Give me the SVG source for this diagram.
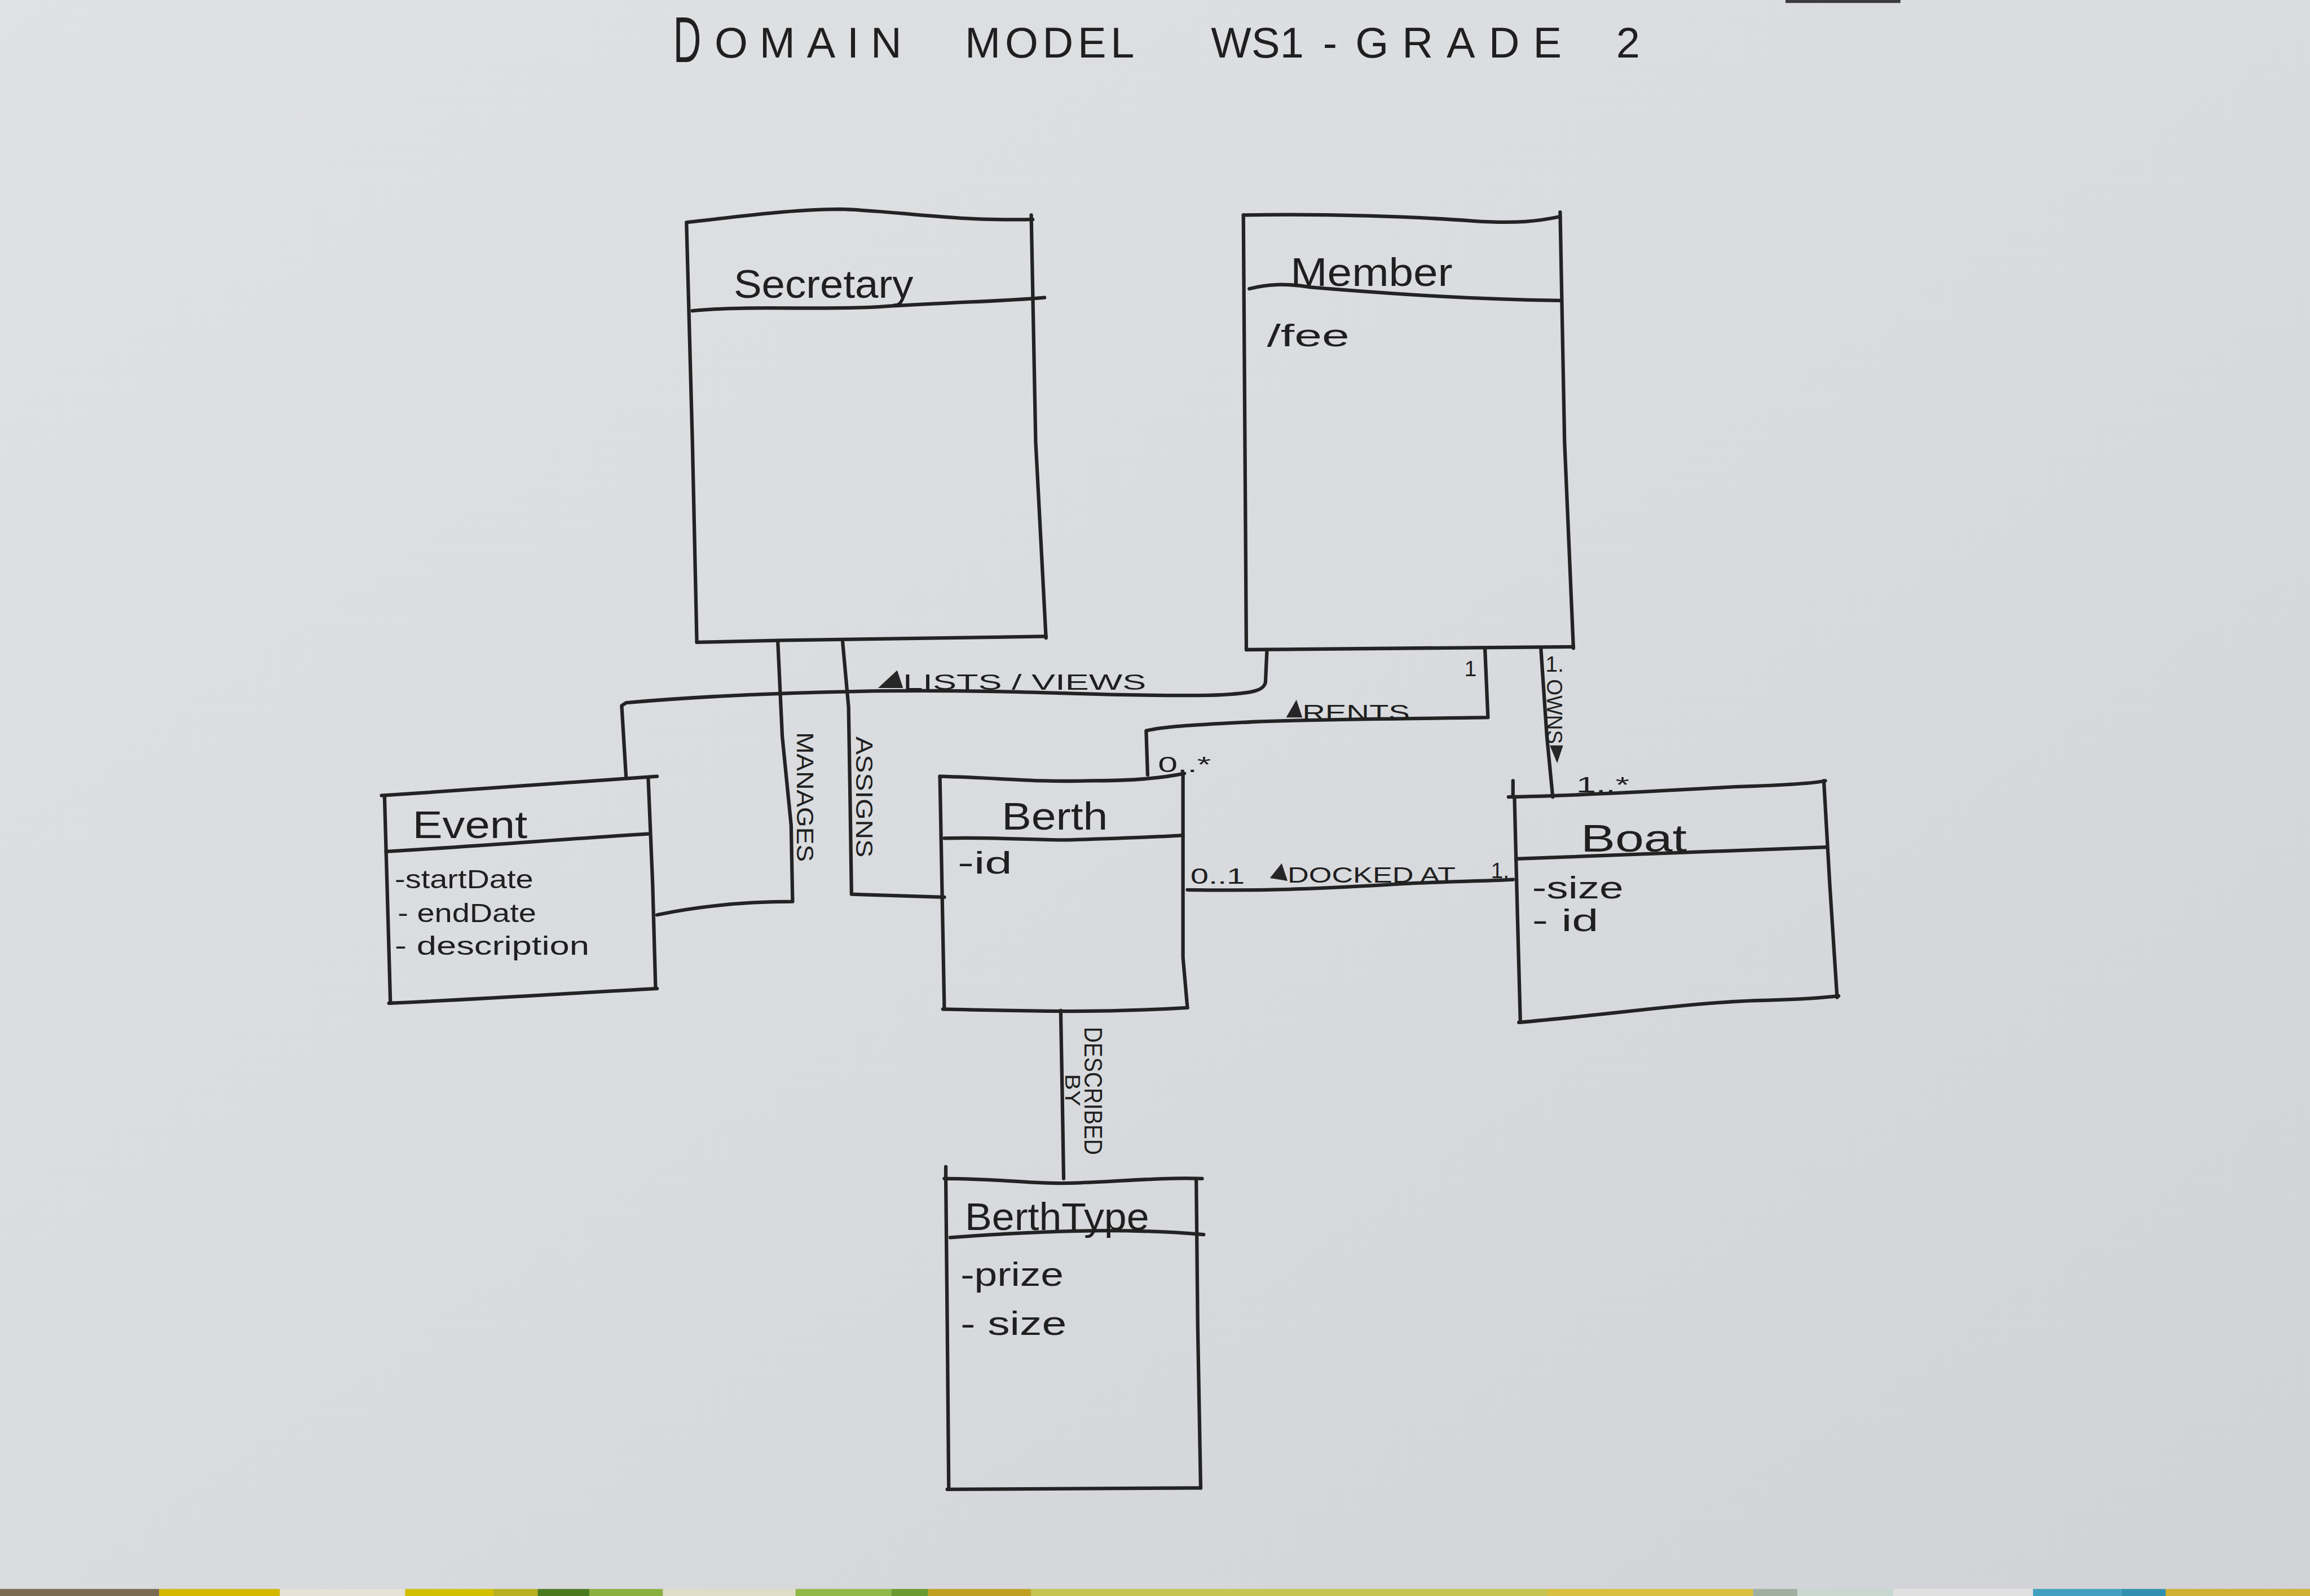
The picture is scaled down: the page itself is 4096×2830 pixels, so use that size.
<svg xmlns="http://www.w3.org/2000/svg" width="4096" height="2830" viewBox="0 0 4096 2830">
<defs>
<linearGradient id="paper" x1="0" y1="0" x2="1" y2="1">
<stop offset="0" stop-color="#e0e1e3"/>
<stop offset="0.5" stop-color="#d9dbde"/>
<stop offset="1" stop-color="#d0d2d6"/>
</linearGradient>
<style>
.ink{fill:none;stroke:#232323;stroke-width:2.4;stroke-linecap:round;stroke-linejoin:round}
.t{fill:#1f1f1f;font-family:"Liberation Sans","DejaVu Sans",sans-serif}
.ti{fill:#1f1f1f;font-family:"Liberation Sans","DejaVu Sans",sans-serif;font-size:29px}
.name{font-size:27px}
.attr{font-size:21px}
.lbl{font-size:15px}
.tri{fill:#262626}
</style>
</defs>
<rect x="0" y="0" width="4096" height="2830" fill="url(#paper)"/>
<g transform="scale(2.612245)">
<g id="strip">
<rect x="0" y="1078.6" width="108" height="5" fill="#7a6a50"/>
<rect x="108" y="1078.6" width="82" height="5" fill="#d4b800"/>
<rect x="190" y="1078.6" width="85" height="5" fill="#e6e2d6"/>
<rect x="275" y="1078.6" width="60" height="5" fill="#d2c000"/>
<rect x="335" y="1078.6" width="30" height="5" fill="#b8b020"/>
<rect x="365" y="1078.6" width="35" height="5" fill="#4a7a20"/>
<rect x="400" y="1078.6" width="50" height="5" fill="#8ab040"/>
<rect x="450" y="1078.6" width="90" height="5" fill="#e0dcc8"/>
<rect x="540" y="1078.6" width="65" height="5" fill="#90b848"/>
<rect x="605" y="1078.6" width="25" height="5" fill="#6a9a30"/>
<rect x="630" y="1078.6" width="70" height="5" fill="#c0a020"/>
<rect x="700" y="1078.6" width="350" height="5" fill="#c4c450"/>
<rect x="1050" y="1078.6" width="140" height="5" fill="#d8c040"/>
<rect x="1190" y="1078.6" width="30" height="5" fill="#a0b0a0"/>
<rect x="1220" y="1078.6" width="65" height="5" fill="#c8d8d0"/>
<rect x="1285" y="1078.6" width="95" height="5" fill="#e0e0e0"/>
<rect x="1380" y="1078.6" width="60" height="5" fill="#40a0c0"/>
<rect x="1440" y="1078.6" width="30" height="5" fill="#3090b0"/>
<rect x="1470" y="1078.6" width="98" height="5" fill="#d0b030"/>
</g>
<line x1="1212" y1="1" x2="1290" y2="1" stroke="#3a3a3a" stroke-width="2"/>

<g id="title">
<text class="ti" x="457" y="42" style="font-size:44px" textLength="19" lengthAdjust="spacingAndGlyphs">D</text>
<text class="ti" x="485" y="39" textLength="127" lengthAdjust="spacing">OMAIN</text>
<text class="ti" x="655" y="39" textLength="115" lengthAdjust="spacing">MODEL</text>
<text class="ti" x="822" y="39" textLength="63" lengthAdjust="spacing">WS1</text>
<text class="ti" x="898" y="39">-</text>
<text class="ti" x="920" y="39" textLength="140" lengthAdjust="spacing">GRADE</text>
<text class="ti" x="1097" y="39">2</text>
</g>

<g id="connectors">
<path class="ink" d="M860,441 L859,463 C858,469 850,471 820,472 C750,473 700,468 600,469 C520,470 460,474 425,477 L422,479 L425,528"/>
<polygon class="tri" points="596,467 609,455 613,467"/>
<text class="t lbl" x="613" y="468" font-size="16" textLength="165" lengthAdjust="spacingAndGlyphs">LISTS / VIEWS</text>
<path class="ink" d="M1008,441 L1010,487 C950,488 900,488 850,490 C812,492 790,493 778,496 L779,526"/>
<polygon class="tri" points="873,487 880,475 884,487"/>
<text class="t lbl" x="884" y="489" font-size="16" textLength="73" lengthAdjust="spacingAndGlyphs">RENTS</text>
<text class="t lbl" x="994" y="459">1</text>
<text class="t lbl" x="786" y="524" textLength="36" lengthAdjust="spacingAndGlyphs">0..*</text>
<path class="ink" d="M1046,441 L1050,500 L1054,541"/>
<text class="t lbl" x="1049" y="456" font-size="14">1.</text>
<text class="t" font-size="15" transform="translate(1050,461) rotate(90)" textLength="44" lengthAdjust="spacingAndGlyphs">OWNS</text>
<polygon class="tri" points="1052,506 1061,506 1057,518"/>
<text class="t lbl" x="1070" y="538" font-size="14" textLength="36" lengthAdjust="spacingAndGlyphs">1..*</text>
<path class="ink" d="M528,436 L531,500 L537,560 L538,612 C510,612 480,614 446,621"/>
<text class="t" font-size="16" transform="translate(541,497) rotate(90)" textLength="88" lengthAdjust="spacingAndGlyphs">MANAGES</text>
<path class="ink" d="M572,436 L576,480 L577,540 L578,607 L641,609"/>
<text class="t" font-size="16" transform="translate(581,500) rotate(90)" textLength="82" lengthAdjust="spacingAndGlyphs">ASSIGNS</text>
<path class="ink" d="M806,604 C860,605 900,603 950,600 C990,598 1010,598 1027,597"/>
<text class="t lbl" x="808" y="600" textLength="37" lengthAdjust="spacingAndGlyphs">0..1</text>
<polygon class="tri" points="862,596 870,586 874,598"/>
<text class="t lbl" x="874" y="599" font-size="16" textLength="114" lengthAdjust="spacingAndGlyphs">DOCKED AT</text>
<text class="t lbl" x="1012" y="596" font-size="14">1.</text>
<path class="ink" d="M720,686 L721,740 L722,800"/>
<text class="t" font-size="17" transform="translate(736,697) rotate(90)" textLength="87" lengthAdjust="spacingAndGlyphs">DESCRIBED</text>
<text class="t" font-size="14" transform="translate(723,729) rotate(90)" textLength="22" lengthAdjust="spacingAndGlyphs">BY</text>
</g>

<g id="secretary">
<path class="ink" d="M466,151 C500,147 540,142 570,142 C610,143 640,150 701,149"/>
<path class="ink" d="M700,146 L703,300 L710,433"/>
<path class="ink" d="M473,436 C550,434 620,433 710,432"/>
<path class="ink" d="M466,152 L470,300 L473,436"/>
<path class="ink" d="M470,211 C510,207 560,211 600,208 C650,205 690,204 709,202"/>
<text class="t name" x="498" y="202" textLength="122" lengthAdjust="spacingAndGlyphs">Secretary</text>
</g>

<g id="member">
<path class="ink" d="M844,146 C900,145 960,147 1000,150 C1030,152 1045,150 1059,147"/>
<path class="ink" d="M1059,144 L1062,300 L1068,440"/>
<path class="ink" d="M846,441 L1068,439"/>
<path class="ink" d="M844,146 L846,441"/>
<path class="ink" d="M848,196 C860,193 872,192 890,195 C950,200 1000,203 1059,204"/>
<text class="t name" x="876" y="194" textLength="110" lengthAdjust="spacingAndGlyphs">Member</text>
<text class="t attr" x="860" y="235" textLength="56" lengthAdjust="spacingAndGlyphs">/fee</text>
</g>

<g id="event">
<path class="ink" d="M259,540 C320,536 380,532 446,527"/>
<path class="ink" d="M440,528 L443,600 L445,671"/>
<path class="ink" d="M264,681 C330,678 390,674 446,671"/>
<path class="ink" d="M261,540 L263,610 L265,681"/>
<path class="ink" d="M262,578 C330,574 390,569 440,566"/>
<text class="t" font-size="26" x="280" y="569" textLength="78" lengthAdjust="spacingAndGlyphs">Event</text>
<text class="t" font-size="18" x="268" y="603" textLength="94" lengthAdjust="spacingAndGlyphs">-startDate</text>
<text class="t" font-size="18" x="270" y="626" textLength="94" lengthAdjust="spacingAndGlyphs">- endDate</text>
<text class="t" font-size="18" x="268" y="648" textLength="132" lengthAdjust="spacingAndGlyphs">- description</text>
</g>

<g id="berth">
<path class="ink" d="M638,527 C680,528 700,531 740,530 C770,530 790,528 804,525"/>
<path class="ink" d="M803,525 L803,650 L806,684"/>
<path class="ink" d="M640,685 C690,686 740,688 806,684"/>
<path class="ink" d="M638,527 L641,685"/>
<path class="ink" d="M641,569 C680,568 710,571 730,570 C760,569 790,568 803,567"/>
<text class="t" font-size="26" x="680" y="563" textLength="72" lengthAdjust="spacingAndGlyphs">Berth</text>
<text class="t attr" x="650" y="593" textLength="37" lengthAdjust="spacingAndGlyphs">-id</text>
</g>

<g id="boat">
<path class="ink" d="M1024,541 C1080,540 1140,536 1180,534 C1210,533 1230,532 1239,530"/>
<path class="ink" d="M1027,530 L1027,541"/>
<path class="ink" d="M1238,530 L1242,600 L1247,677"/>
<path class="ink" d="M1031,694 C1100,688 1150,680 1200,679 C1230,678 1240,677 1248,676"/>
<path class="ink" d="M1028,541 L1030,620 L1032,694"/>
<path class="ink" d="M1029,583 C1100,580 1170,577 1240,575"/>
<text class="t" font-size="26" x="1073" y="578" textLength="72" lengthAdjust="spacingAndGlyphs">Boat</text>
<text class="t attr" x="1040" y="610" textLength="62" lengthAdjust="spacingAndGlyphs">-size</text>
<text class="t attr" x="1040" y="632" textLength="45" lengthAdjust="spacingAndGlyphs">- id</text>
</g>

<g id="berthtype">
<path class="ink" d="M641,800 C680,800 700,804 730,803 C760,802 790,799 816,800"/>
<path class="ink" d="M642,792 L642,800"/>
<path class="ink" d="M812,800 L813,900 L815,1010"/>
<path class="ink" d="M643,1011 L815,1010"/>
<path class="ink" d="M642,800 L643,900 L644,1011"/>
<path class="ink" d="M645,840 C700,836 760,833 817,838"/>
<text class="t" font-size="26" x="655" y="835" textLength="125" lengthAdjust="spacingAndGlyphs">BerthType</text>
<text class="t" font-size="23" x="652" y="873" textLength="70" lengthAdjust="spacingAndGlyphs">-prize</text>
<text class="t" font-size="23" x="652" y="906" textLength="72" lengthAdjust="spacingAndGlyphs">- size</text>
</g>
</g>
</svg>
